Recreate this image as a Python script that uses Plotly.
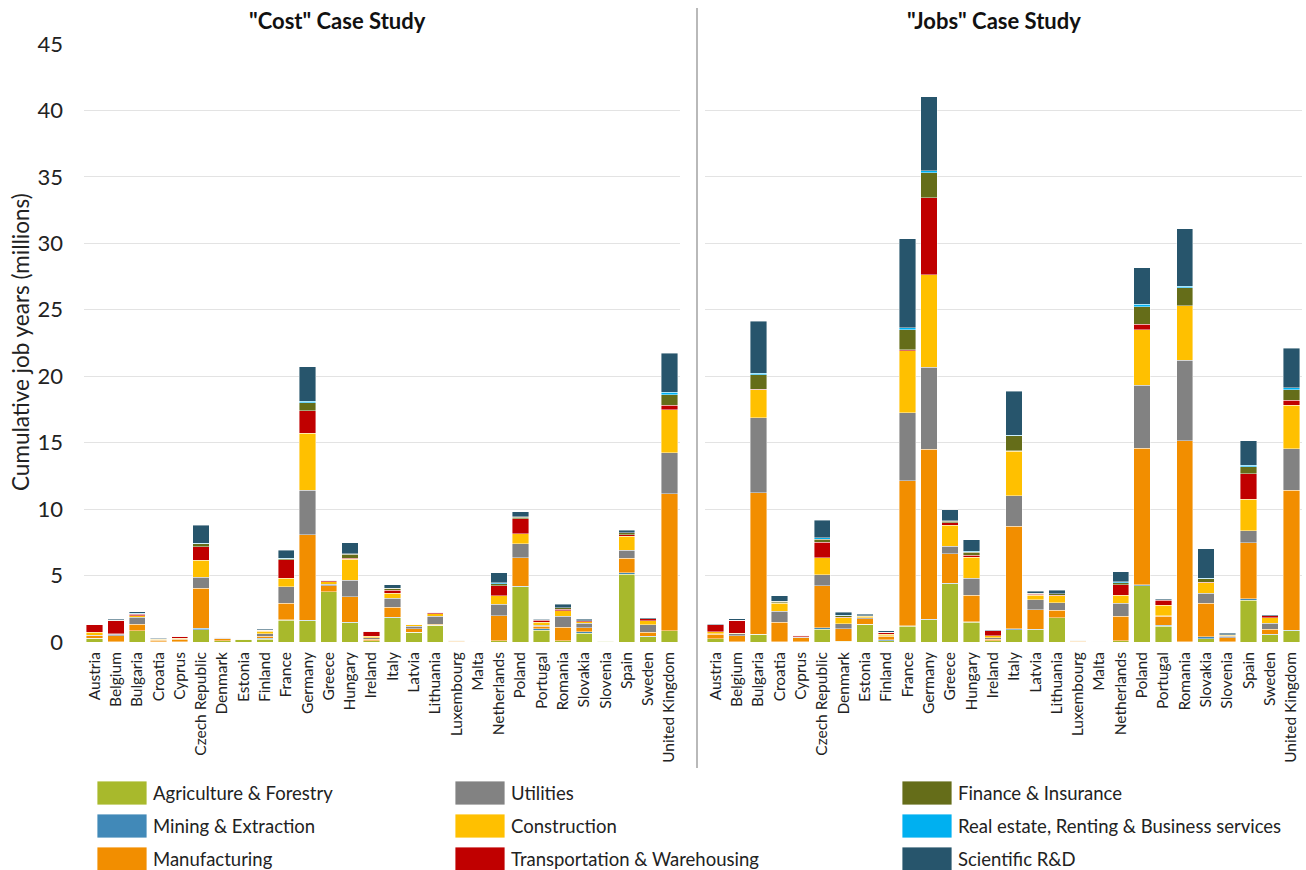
import plotly.graph_objects as go

countries = ["Austria", "Belgium", "Bulgaria", "Croatia", "Cyprus", "Czech Republic", "Denmark",
             "Estonia", "Finland", "France", "Germany", "Greece", "Hungary", "Ireland", "Italy",
             "Latvia", "Lithuania", "Luxembourg", "Malta", "Netherlands", "Poland", "Portugal",
             "Romania", "Slovakia", "Slovenia", "Spain", "Sweden", "United Kingdom"]

sectors = ["Agriculture & Forestry", "Mining & Extraction", "Manufacturing", "Utilities",
           "Construction", "Transportation & Warehousing", "Finance & Insurance",
           "Real estate, Renting & Business services", "Scientific R&D"]

colors = ["#A8B92C", "#4189B8", "#F28E00", "#828282", "#FFC000", "#C00000", "#656D19",
          "#00B0F0", "#27556C"]

# "Cost" case study (millions of job years), one list per sector, in country order
cost_agri = [0.28, 0.03, 0.83, 0.02, 0.02, 0.93, 0.10, 0.20, 0.20, 1.65, 1.60, 3.78, 1.45, 0.10,
             1.83, 0.75, 1.25, 0.01, 0.02, 0.08, 4.16, 0.90, 0.08, 0.65, 0.05, 5.09, 0.40, 0.83]
cost_mining = [0.00, 0.00, 0.02, 0.00, 0.00, 0.10, 0.00, 0.00, 0.07, 0.02, 0.02, 0.02, 0.02, 0.00,
               0.02, 0.00, 0.00, 0.00, 0.00, 0.00, 0.03, 0.10, 0.00, 0.13, 0.00, 0.13, 0.05, 0.02]
cost_manuf = [0.18, 0.45, 0.50, 0.10, 0.20, 3.03, 0.13, 0.02, 0.15, 1.25, 6.45, 0.43, 1.94, 0.12,
              0.78, 0.25, 0.10, 0.03, 0.02, 1.88, 2.15, 0.20, 1.04, 0.30, 0.04, 1.10, 0.28, 10.30]
cost_util = [0.05, 0.12, 0.50, 0.05, 0.03, 0.83, 0.05, 0.01, 0.20, 1.23, 3.36, 0.12, 1.25, 0.10,
             0.65, 0.20, 0.60, 0.04, 0.01, 0.88, 1.05, 0.05, 0.80, 0.33, 0.02, 0.60, 0.55, 3.08]
cost_constr = [0.22, 0.03, 0.12, 0.03, 0.05, 1.25, 0.03, 0.01, 0.20, 0.63, 4.29, 0.20, 1.55, 0.13,
               0.40, 0.10, 0.18, 0.01, 0.01, 0.63, 0.75, 0.25, 0.43, 0.10, 0.01, 1.05, 0.33, 3.24]
cost_transp = [0.55, 0.97, 0.12, 0.04, 0.12, 1.03, 0.05, 0.01, 0.08, 1.40, 1.68, 0.05, 0.08, 0.35,
               0.23, 0.02, 0.10, 0.02, 0.01, 0.75, 1.13, 0.15, 0.13, 0.08, 0.01, 0.10, 0.13, 0.33]
cost_finance = [0.00, 0.02, 0.05, 0.01, 0.00, 0.23, 0.00, 0.00, 0.00, 0.10, 0.60, 0.03, 0.30, 0.00,
                0.13, 0.00, 0.02, 0.01, 0.00, 0.18, 0.13, 0.02, 0.08, 0.02, 0.00, 0.15, 0.02, 0.80]
cost_realestate = [0.00, 0.00, 0.01, 0.00, 0.00, 0.05, 0.00, 0.00, 0.00, 0.02, 0.13, 0.00, 0.07, 0.00,
                   0.02, 0.00, 0.00, 0.00, 0.00, 0.05, 0.02, 0.00, 0.02, 0.00, 0.00, 0.02, 0.00, 0.18]
cost_rd = [0.02, 0.08, 0.12, 0.02, 0.02, 1.33, 0.03, 0.01, 0.05, 0.60, 2.57, 0.07, 0.80, 0.05,
           0.25, 0.03, 0.03, 0.03, 0.01, 0.78, 0.40, 0.06, 0.25, 0.10, 0.01, 0.17, 0.08, 2.96]

# "Jobs" case study
jobs_agri = [0.25, 0.03, 0.58, 0.03, 0.02, 0.95, 0.05, 1.33, 0.08, 1.20, 1.68, 4.39, 1.50, 0.10,
             0.93, 0.93, 1.83, 0.01, 0.02, 0.10, 4.24, 1.18, 0.02, 0.25, 0.02, 3.13, 0.55, 0.85]
jobs_mining = [0.00, 0.00, 0.02, 0.00, 0.00, 0.13, 0.00, 0.00, 0.10, 0.02, 0.02, 0.02, 0.02, 0.00,
               0.08, 0.02, 0.00, 0.00, 0.00, 0.00, 0.05, 0.08, 0.00, 0.15, 0.00, 0.13, 0.05, 0.02]
jobs_manuf = [0.33, 0.45, 10.63, 1.47, 0.31, 3.16, 0.95, 0.43, 0.25, 10.91, 12.79, 2.24, 1.98, 0.12,
              7.69, 1.48, 0.55, 0.03, 0.02, 1.85, 10.28, 0.68, 15.14, 2.53, 0.31, 4.20, 0.35, 10.56]
jobs_util = [0.03, 0.15, 5.64, 0.83, 0.02, 0.83, 0.38, 0.05, 0.05, 5.11, 6.19, 0.55, 1.28, 0.10,
             2.30, 0.75, 0.58, 0.04, 0.01, 0.98, 4.74, 0.05, 6.04, 0.75, 0.10, 0.90, 0.45, 3.10]
jobs_constr = [0.15, 0.03, 2.10, 0.60, 0.05, 1.28, 0.45, 0.13, 0.10, 4.69, 6.96, 1.58, 1.60, 0.15,
               3.36, 0.35, 0.53, 0.01, 0.01, 0.58, 4.19, 0.78, 4.10, 0.78, 0.08, 2.40, 0.43, 3.28]
jobs_transp = [0.55, 0.97, 0.05, 0.03, 0.10, 1.15, 0.05, 0.02, 0.15, 0.05, 5.80, 0.18, 0.13, 0.38,
               0.05, 0.08, 0.03, 0.02, 0.01, 0.78, 0.43, 0.38, 0.02, 0.05, 0.02, 1.90, 0.13, 0.38]
jobs_finance = [0.00, 0.02, 1.08, 0.10, 0.00, 0.23, 0.10, 0.02, 0.02, 1.50, 1.86, 0.13, 0.25, 0.00,
                1.10, 0.07, 0.12, 0.01, 0.00, 0.18, 1.28, 0.02, 1.34, 0.25, 0.01, 0.53, 0.02, 0.80]
jobs_realestate = [0.00, 0.00, 0.13, 0.02, 0.00, 0.10, 0.02, 0.00, 0.00, 0.15, 0.18, 0.02, 0.08, 0.00,
                   0.05, 0.00, 0.00, 0.00, 0.00, 0.05, 0.20, 0.00, 0.10, 0.05, 0.00, 0.10, 0.00, 0.15]
jobs_rd = [0.02, 0.10, 3.92, 0.40, 0.02, 1.33, 0.23, 0.10, 0.08, 6.71, 5.55, 0.86, 0.85, 0.05,
           3.30, 0.15, 0.25, 0.03, 0.01, 0.78, 2.74, 0.10, 4.34, 2.20, 0.11, 1.85, 0.06, 2.98]

y_ticks = [0, 5, 10, 15, 20, 25, 30, 35, 40, 45]

cost_series = [cost_agri, cost_mining, cost_manuf, cost_util, cost_constr, cost_transp,
               cost_finance, cost_realestate, cost_rd]
jobs_series = [jobs_agri, jobs_mining, jobs_manuf, jobs_util, jobs_constr, jobs_transp,
               jobs_finance, jobs_realestate, jobs_rd]

FONT = "Lato"
fig = go.Figure()
line_style = dict(color="rgba(255,255,255,0.7)", width=0.6)
for name, col, vals in zip(sectors, colors, cost_series):
    fig.add_trace(go.Bar(x=countries, y=vals, name=name, marker=dict(color=col, line=line_style),
                         xaxis="x", yaxis="y", showlegend=False))
for name, col, vals in zip(sectors, colors, jobs_series):
    fig.add_trace(go.Bar(x=countries, y=vals, name=name, marker=dict(color=col, line=line_style),
                         xaxis="x2", yaxis="y2", showlegend=False))

W, H = 1306, 870
ML, MR, MT, MB = 84, 4, 44, 228
pw = W - ML - MR
ph = H - MT - MB


def px_x(p):
    return (p - ML) / pw


def px_y(p):
    return (H - MB - p) / ph


xcommon = dict(type="category", tickangle=-90, showgrid=False, zeroline=False, showline=False,
               ticks="", tickfont=dict(family=FONT, size=15.5, color="#222"), ticklabelstandoff=6)
ycommon = dict(range=[0, 45], tickvals=y_ticks, showgrid=True, gridcolor="#e3e3e3", gridwidth=1,
               zeroline=False, showline=False, ticks="")

fig.update_layout(
    width=W, height=H, barmode="stack", bargap=0.23,
    paper_bgcolor="white", plot_bgcolor="white",
    margin=dict(l=ML, r=MR, t=MT, b=MB),
    font=dict(family=FONT, color="#222"),
    xaxis=dict(domain=[0, px_x(680)], anchor="y", **xcommon),
    xaxis2=dict(domain=[px_x(705), 1], anchor="y2", **xcommon),
    yaxis=dict(anchor="x", tickfont=dict(family=FONT, size=22, color="#222"),
               ticklabelstandoff=20, **ycommon),
    yaxis2=dict(anchor="x2", showticklabels=False, matches="y", **ycommon),
)

annotations = [
    dict(text='<b>"Cost" Case Study</b>', x=px_x(337), y=px_y(20), xref="paper", yref="paper",
         xanchor="center", yanchor="middle", showarrow=False,
         font=dict(family=FONT, size=22, color="#111")),
    dict(text='<b>"Jobs" Case Study</b>', x=px_x(994), y=px_y(20), xref="paper", yref="paper",
         xanchor="center", yanchor="middle", showarrow=False,
         font=dict(family=FONT, size=22, color="#111")),
    dict(text="Cumulative job years (millions)", x=px_x(20), y=px_y(342), xref="paper",
         yref="paper", xanchor="center", yanchor="middle", textangle=-90, showarrow=False,
         font=dict(family=FONT, size=22.5, color="#222")),
]

shapes = [dict(type="line", xref="paper", yref="paper", x0=px_x(697), x1=px_x(697),
               y0=px_y(8), y1=px_y(768), line=dict(color="#8a8a8a", width=1.2))]

# custom legend: 3 columns x 3 rows
col_x = [97, 455, 902]
row_y = [793, 826, 859]
for i, (name, col) in enumerate(zip(sectors, colors)):
    c, r = divmod(i, 3)
    x0 = col_x[c]
    yc = row_y[r]
    shapes.append(dict(type="rect", xref="paper", yref="paper", x0=px_x(x0), x1=px_x(x0 + 50),
                       y0=px_y(yc + 12), y1=px_y(yc - 12), fillcolor=col,
                       line=dict(color="rgba(255,255,255,0.8)", width=1)))
    annotations.append(dict(text=name, x=px_x(x0 + 54), y=px_y(yc), xref="paper", yref="paper",
                            xanchor="left", yanchor="middle", showarrow=False,
                            font=dict(family=FONT, size=18.5, color="#222")))

fig.update_layout(annotations=annotations, shapes=shapes)
fig.write_html("out.html")
